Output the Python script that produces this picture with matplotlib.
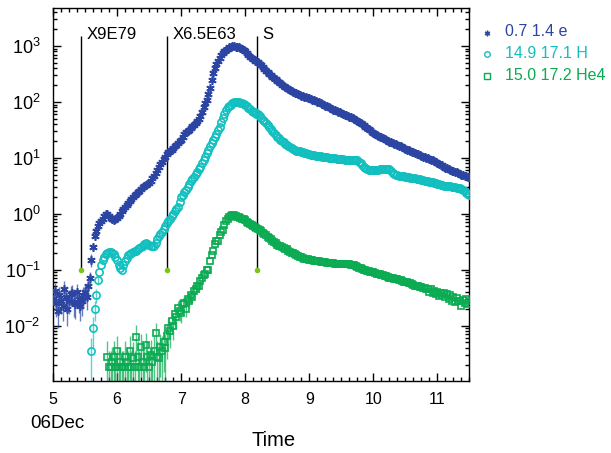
import matplotlib
matplotlib.use('Agg')
import matplotlib.pyplot as plt
import numpy as np
from matplotlib.ticker import MultipleLocator, LogLocator, NullFormatter

plt.rcParams['font.family'] = ['Liberation Sans', 'DejaVu Sans']
plt.rcParams['mathtext.fontset'] = 'custom'
plt.rcParams['mathtext.rm'] = 'Liberation Sans'
plt.rcParams['mathtext.it'] = 'Liberation Sans:italic'

# sample times (days of December), 0.025 d steps
t_blue = np.round(np.arange(5.0, 11.5001, 0.025), 3)
t_cyan = np.round(np.arange(5.6, 11.5001, 0.025), 3)
t_green = np.round(np.arange(5.85, 11.5001, 0.025), 3)

# 0.7-1.4 MeV electrons
blue = [0.030, 0.042, 0.025, 0.018, 0.035, 0.028, 0.022, 0.045, 0.032, 0.020,
        0.028, 0.036, 0.038, 0.026, 0.024, 0.040, 0.030, 0.022, 0.027, 0.035,
        0.040, 0.032, 0.050, 0.070, 0.15, 0.25, 0.40, 0.50, 0.60, 0.68,
        0.75, 0.82, 0.90, 1.00, 1.00, 0.92, 0.85, 0.80, 0.78, 0.80,
        0.85, 0.92, 1.00, 1.10, 1.2, 1.3, 1.45, 1.55, 1.7, 1.85,
        2.0, 2.15, 2.3, 2.45, 2.6, 2.8, 3.0, 3.1, 3.3, 3.4,
        3.6, 3.9, 4.3, 4.8, 5.3, 6.1, 7.0, 7.8, 8.5, 9.5,
        10.5, 11.5, 12.5, 13.2, 14.0, 15.0, 16.0, 17.2, 18.5, 19.8,
        21, 24, 27, 28.5, 30, 32, 34, 36.5, 39, 42,
        45, 50, 55, 65, 80, 95, 110, 140, 180, 250,
        330, 400, 480, 540, 600, 680, 760, 800, 850, 900,
        950, 980, 1000, 1000, 980, 960, 950, 930, 900, 850,
        800, 750, 700, 650, 610, 580, 550, 530, 510, 480,
        450, 420, 390, 365, 340, 320, 300, 285, 270, 255,
        240, 228, 215, 205, 195, 188, 180, 172, 165, 158,
        152, 147, 142, 137, 133, 130, 128, 125, 122, 119,
        116, 113, 110, 107, 104, 101, 99, 95, 92, 89,
        86, 83, 80, 77, 75, 73, 71, 69, 67, 65,
        63, 61, 59, 57.5, 56, 54.5, 53, 51.5, 50, 48,
        46, 44, 42, 40, 38, 36, 34, 32.5, 31, 29.5,
        28, 27, 26, 25, 24, 23.2, 22.5, 21.7, 21, 20.2,
        19.5, 19.0, 18.5, 18.0, 17.5, 17.0, 16.5, 16.0, 15.5, 15.0,
        14.5, 14.0, 13.6, 13.2, 12.8, 12.5, 12.2, 11.8, 11.5, 11.1,
        10.8, 10.5, 10.2, 10.0, 9.8, 9.5, 9.3, 9.0, 8.8, 8.5,
        8.2, 7.9, 7.6, 7.3, 7.0, 6.7, 6.5, 6.3, 6.1, 5.9,
        5.8, 5.6, 5.5, 5.3, 5.2, 5.0, 4.9, 4.8, 4.7, 4.6,
        4.5]
blue_err = [0.012, 0.016, 0.011, 0.009, 0.014, 0.012, 0.010, 0.017, 0.013, 0.010,
            0.012, 0.014, 0.015, 0.012, 0.011, 0.016, 0.013, 0.010, 0.012, 0.014,
            0.015, 0.013, 0.018, 0.02, 0.04]

# 14.9-17.1 MeV protons
cyan = [0.0035, 0.009, 0.02, 0.035, 0.065, 0.09, 0.12, 0.15, 0.17, 0.19,
        0.20, 0.21, 0.21, 0.20, 0.19, 0.17, 0.15, 0.12, 0.105, 0.10,
        0.12, 0.14, 0.16, 0.18, 0.19, 0.20, 0.21, 0.22, 0.22, 0.23,
        0.24, 0.25, 0.27, 0.29, 0.30, 0.29, 0.28, 0.27, 0.26, 0.27,
        0.30, 0.35, 0.40, 0.44, 0.48, 0.54, 0.60, 0.68, 0.75, 0.82,
        0.90, 1.0, 1.1, 1.2, 1.3, 1.6, 2.0, 2.2, 2.5, 2.7,
        3.0, 3.4, 3.8, 4.2, 4.6, 5.1, 5.6, 6.3, 7.0, 8.0,
        9.0, 10.5, 12, 14, 16, 18.5, 21, 24, 27, 31,
        36, 43, 52, 62, 72, 80, 85, 90, 95, 98,
        100, 99, 98, 97, 95, 92, 88, 83, 78, 74,
        70, 67, 65, 62, 60, 56, 52, 48, 45, 42,
        39, 36, 33, 30.5, 28, 26, 24, 22.5, 21, 20,
        19, 18, 17, 16.2, 15.5, 15.0, 14.5, 14.0, 13.5, 13.2,
        13.0, 12.7, 12.5, 12.2, 12.0, 11.8, 11.6, 11.4, 11.3, 11.1,
        11.0, 10.9, 10.8, 10.6, 10.5, 10.4, 10.3, 10.2, 10.1, 10.0,
        10.0, 9.9, 9.8, 9.7, 9.6, 9.5, 9.5, 9.4, 9.3, 9.2,
        9.1, 9.1, 9.2, 9.3, 9.3, 9.2, 9.0, 8.5, 8.0, 7.5,
        7.0, 6.6, 6.3, 6.1, 6.0, 6.0, 6.0, 6.0, 6.1, 6.1,
        6.2, 6.2, 6.3, 6.3, 6.3, 6.3, 6.3, 5.8, 5.4, 5.1,
        4.9, 4.85, 4.8, 4.75, 4.7, 4.65, 4.6, 4.55, 4.5, 4.45,
        4.4, 4.35, 4.3, 4.25, 4.2, 4.1, 4.0, 3.95, 3.9, 3.85,
        3.8, 3.75, 3.7, 3.65, 3.6, 3.5, 3.4, 3.35, 3.3, 3.25,
        3.2, 3.15, 3.1, 3.1, 3.1, 3.05, 3.0, 2.95, 2.9, 2.9,
        2.9, 2.8, 2.7, 2.55, 2.4, 2.3, 2.2]
cyan_err = [0.0025, 0.005, 0.008, 0.01, 0.012]

# 15.0-17.2 MeV/n He4
green = [0.0027, 0.0018, 0.0018, 0.0022, 0.0027, 0.0018, 0.0035, 0.0018, 0.0022, 0.0018,
         0.0018, 0.0027, 0.0022, 0.0018, 0.0035, 0.0018, 0.0026, 0.0018, 0.0062, 0.0027,
         0.0018, 0.0042, 0.0022, 0.0018, 0.0045, 0.0027, 0.0018, 0.0030, 0.0022, 0.0035,
         0.0073, 0.0027, 0.0026, 0.0042, 0.0035, 0.0050, 0.0040, 0.0065, 0.0090, 0.0080,
         0.012, 0.010, 0.016, 0.014, 0.021, 0.018, 0.017, 0.024, 0.025, 0.020,
         0.030, 0.028, 0.035, 0.033, 0.042, 0.045, 0.052, 0.050, 0.062, 0.070,
         0.080, 0.085, 0.100, 0.100, 0.140, 0.180, 0.220, 0.290, 0.320, 0.330,
         0.420, 0.480, 0.520, 0.620, 0.750, 0.800, 0.880, 0.930, 0.950, 0.940,
         0.900, 0.880, 0.860, 0.840, 0.820, 0.790, 0.760, 0.720, 0.690, 0.660,
         0.630, 0.600, 0.580, 0.560, 0.540, 0.510, 0.490, 0.460, 0.440, 0.410,
         0.390, 0.370, 0.350, 0.330, 0.310, 0.295, 0.280, 0.270, 0.260, 0.252,
         0.245, 0.238, 0.230, 0.220, 0.210, 0.202, 0.195, 0.188, 0.180, 0.175,
         0.170, 0.166, 0.162, 0.158, 0.155, 0.152, 0.150, 0.148, 0.147, 0.145,
         0.143, 0.142, 0.140, 0.138, 0.137, 0.136, 0.135, 0.133, 0.132, 0.131,
         0.130, 0.129, 0.128, 0.128, 0.128, 0.127, 0.127, 0.126, 0.126, 0.125,
         0.125, 0.124, 0.123, 0.122, 0.120, 0.116, 0.112, 0.108, 0.105, 0.102,
         0.100, 0.097, 0.095, 0.093, 0.092, 0.091, 0.090, 0.088, 0.085, 0.083,
         0.082, 0.081, 0.080, 0.078, 0.077, 0.075, 0.072, 0.071, 0.070, 0.069,
         0.068, 0.067, 0.066, 0.064, 0.063, 0.061, 0.060, 0.059, 0.058, 0.057,
         0.056, 0.054, 0.052, 0.051, 0.050, 0.049, 0.048, 0.047, 0.047, 0.046,
         0.045, 0.040, 0.046, 0.038, 0.042, 0.036, 0.040, 0.034, 0.039, 0.035,
         0.038, 0.032, 0.036, 0.030, 0.035, 0.028, 0.033, 0.026, 0.031, 0.027,
         0.027, 0.022, 0.029, 0.025, 0.030, 0.024, 0.027]
green_err = [0.0025, 0.0017, 0.0017, 0.002, 0.0025, 0.0017, 0.003, 0.0017, 0.002, 0.0017,
             0.0017, 0.0025, 0.002, 0.0017, 0.003, 0.0017, 0.0024, 0.0017, 0.004, 0.0025,
             0.0017, 0.003, 0.002, 0.0017, 0.003, 0.0025, 0.0017, 0.0026, 0.002, 0.003,
             0.004, 0.0025, 0.0024, 0.003, 0.003, 0.0035, 0.003, 0.004, 0.0045, 0.004,
             0.005, 0.0045, 0.006, 0.0055, 0.007, 0.006, 0.006, 0.007, 0.007, 0.006,
             0.008, 0.007, 0.008, 0.008, 0.009, 0.009, 0.01, 0.01, 0.011, 0.012]

labels = ['0.7 1.4 e', '14.9 17.1 H', '15.0 17.2 He4']
colors = ['#2c45a2', '#12bfbf', '#0aab52']

# event markers
event_t = [5.438, 6.784, 8.18]
event_names = ['X9E79', 'X6.5E63', 'S']
event_base = 0.1
event_top = 1500


def pad(err, n):
    return np.concatenate([err, np.zeros(n - len(err))])


fig = plt.figure(figsize=(6.11, 4.53), dpi=100)
ax = fig.add_axes([0.0867, 0.159, 0.6817, 0.8234])

ax.vlines(event_t, event_base, event_top, color='black', lw=1.0, zorder=1)
for t, name in zip(event_t, event_names):
    ax.annotate(name, (t, event_top), xytext=(4, 1), textcoords='offset points',
                ha='left', va='center', fontsize=12)
ax.plot(event_t, [event_base] * len(event_t), 'o', color='#7dc21e', ms=4, mec='none', zorder=4)

series = [(t_blue, blue, blue_err, (6, 2, 0), 6, 'full'),
          (t_cyan, cyan, cyan_err, 'o', 5.2, 'none'),
          (t_green, green, green_err, 's', 4.8, 'none')]
for (t, v, e, mk, ms, fill), c in zip(series, colors):
    ax.errorbar(t, v, yerr=pad(e, len(v)), fmt='none', ecolor=c, elinewidth=1.0,
                alpha=0.7, zorder=2)
    ax.plot(t, v, linestyle='none', marker=mk, ms=ms, color=c,
            mfc=c if fill == 'full' else 'none', mew=1.2, zorder=3)

ax.set_yscale('log')
ax.set_xlim(5, 11.5)
ax.set_ylim(1.02e-3, 4.8e3)
ax.xaxis.set_major_locator(MultipleLocator(1))
ax.xaxis.set_minor_locator(MultipleLocator(0.125))
ax.yaxis.set_major_locator(LogLocator(base=10, numticks=20))
ax.yaxis.set_minor_locator(LogLocator(base=10, subs=np.arange(2, 10), numticks=20))
ax.yaxis.set_minor_formatter(NullFormatter())
ax.tick_params(which='both', direction='in', top=True, right=True, width=1.0)
ax.tick_params(which='major', length=6)
ax.tick_params(which='minor', length=3)
ax.tick_params(axis='x', labelsize=11.5, pad=8)
ax.tick_params(axis='y', labelsize=13, pad=9)
for s in ax.spines.values():
    s.set_linewidth(1.0)

fig.text(30 / 611, 1 - 423 / 453, '06Dec', fontsize=13.5, ha='left', va='center')
fig.text(274 / 611, 1 - 441 / 453, 'Time', fontsize=14.5, ha='center', va='center')

# legend on the right
leg_y = [32, 53, 75]
leg_mk = [(6, 2, 0), 'o', 's']
for y, lab, c, mk in zip(leg_y, labels, colors, leg_mk):
    fig.text(505 / 611, 1 - y / 453, lab, color=c, fontsize=11.5, ha='left', va='center')
    fig.add_artist(plt.Line2D([487 / 611], [1 - (y + 1) / 453], marker=mk, ms=4,
                              color=c, mfc=c if mk != 'o' and mk != 's' else 'none',
                              mew=1.0, linestyle='none', transform=fig.transFigure))

fig.savefig('out.png', dpi=100)
